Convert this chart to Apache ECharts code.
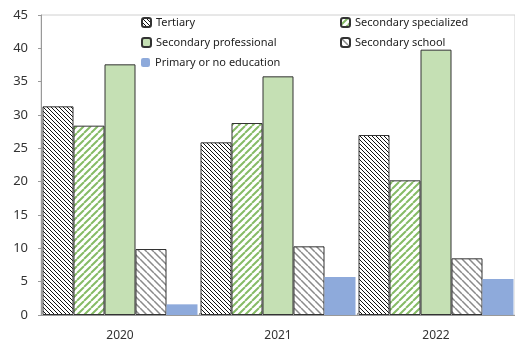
<!DOCTYPE html>
<html><head><meta charset="utf-8">
<script src="https://cdn.jsdelivr.net/npm/echarts@6/dist/echarts.min.js"></script>
<style>html,body{margin:0;padding:0;background:#fff}#c{width:515px;height:349px}</style>
</head><body><div id="c"></div>
<script>
const years = ['2020', '2021', '2022'];
const seriesNames = ['Tertiary', 'Secondary specialized', 'Secondary professional', 'Secondary school', 'Primary or no education'];
const tertiary = [31.3, 25.9, 27.0];
const secSpecialized = [28.4, 28.8, 20.2];
const secProfessional = [37.6, 35.8, 39.8];
const secSchool = [9.9, 10.3, 8.5];
const primary = [1.6, 5.7, 5.4];
const yTicks = [0, 5, 10, 15, 20, 25, 30, 35, 40, 45];

function stripes(size, color, width, dir) {
  const c = document.createElement('canvas');
  c.width = c.height = size;
  const g = c.getContext('2d');
  g.fillStyle = '#fff'; g.fillRect(0, 0, size, size);
  g.strokeStyle = color; g.lineWidth = width; g.beginPath();
  for (let k = -1; k <= 1; k++) {
    if (dir === '/') { g.moveTo(k * size, size); g.lineTo(k * size + size, 0); }
    else { g.moveTo(k * size, 0); g.lineTo(k * size + size, size); }
  }
  g.stroke();
  return { image: c, repeat: 'repeat' };
}

const styles = [
  { color: stripes(4, '#111', 1, '\\'), borderColor: '#333', borderWidth: 1 },
  { color: stripes(7, '#86bb66', 2, '/'), borderColor: '#333', borderWidth: 1 },
  { color: '#c5e0b4', borderColor: '#333', borderWidth: 1 },
  { color: stripes(7, '#8a8a8a', 1.5, '\\'), borderColor: '#333', borderWidth: 1 },
  { color: '#8eaadb', borderWidth: 0 }
];
const values = [tertiary, secSpecialized, secProfessional, secSchool, primary];
const legendPos = [[141, 17], [340, 17], [141, 37], [340, 37], [141, 57]];

const chart = echarts.init(document.getElementById('c'), null, { renderer: 'canvas' });
chart.setOption({
  animation: false,
  textStyle: { fontFamily: 'Noto Sans' },
  grid: { left: 41, top: 15, width: 476, bottom: 34, show: true, borderColor: '#d0d0d0', borderWidth: 1 },
  legend: seriesNames.map((n, i) => ({
    data: [n], left: legendPos[i][0], top: legendPos[i][1], padding: 0,
    itemWidth: 9, itemHeight: 9, itemGap: 4,
    textStyle: { fontSize: 11, color: '#222', fontFamily: 'Noto Sans' }
  })),
  xAxis: {
    type: 'category', data: years,
    axisLine: { lineStyle: { color: '#999' } },
    axisTick: { show: true, inside: true, length: 2, lineStyle: { color: '#999' } },
    axisLabel: { color: '#333', fontSize: 12, margin: 15 }
  },
  yAxis: {
    type: 'value', min: 0, max: 45, interval: 5,
    axisLine: { show: true, lineStyle: { color: '#999' } },
    axisTick: { show: true, length: 3, lineStyle: { color: '#999' } },
    splitLine: { show: false },
    axisLabel: { color: '#333', fontSize: 13, margin: 13 }
  },
  series: seriesNames.map((n, i) => ({
    name: n, type: 'bar', data: values[i], barWidth: 31, barGap: '0%',
    itemStyle: styles[i]
  }))
});
</script></body></html>
